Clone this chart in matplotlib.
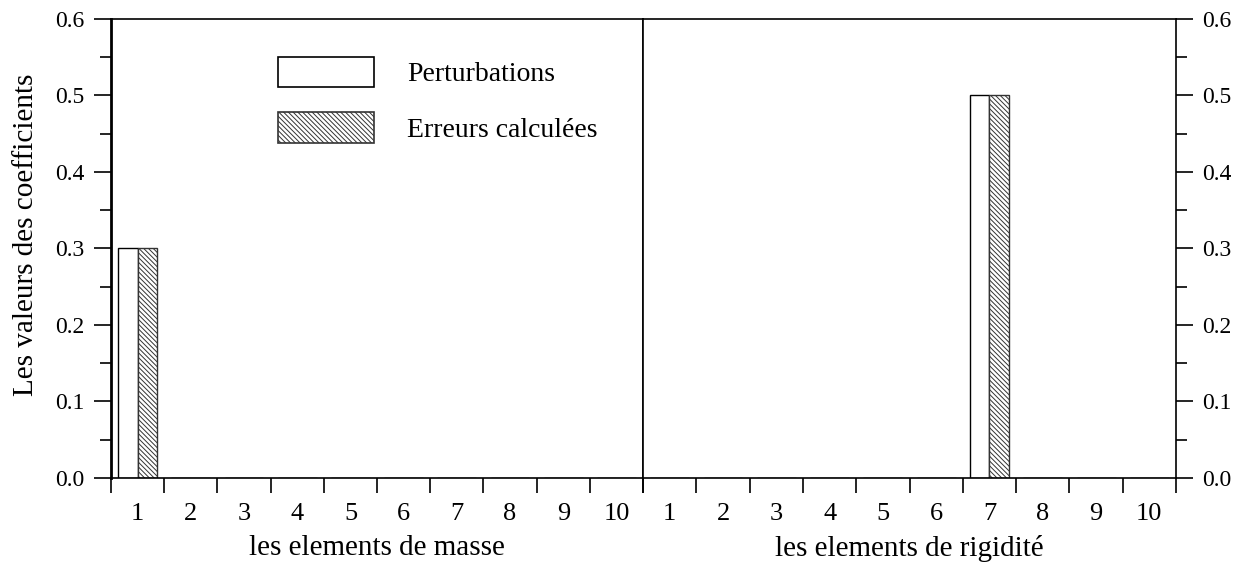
import numpy as np
import matplotlib
matplotlib.use('Agg')
import matplotlib.pyplot as plt
from matplotlib.patches import Patch

plt.rcParams['font.family'] = 'Liberation Serif'
plt.rcParams['font.size'] = 17
plt.rcParams['hatch.linewidth'] = 0.7

# coefficients perturbés / erreurs identifiées, 10 éléments par groupe
elements = np.arange(1, 11)
elem_labels = [str(i) for i in elements]
pert_masse = [0.3, 0, 0, 0, 0, 0, 0, 0, 0, 0]
err_masse = [0.3, 0, 0, 0, 0, 0, 0, 0, 0, 0]
pert_rigid = [0, 0, 0, 0, 0, 0, 0.5, 0, 0, 0]
err_rigid = [0, 0, 0, 0, 0, 0, 0.5, 0, 0, 0]
y_ticks = [0.0, 0.1, 0.2, 0.3, 0.4, 0.5, 0.6]

fig = plt.figure(figsize=(12.56, 5.62), dpi=100)
ax1 = fig.add_axes([0.0884, 0.1495, 0.4236, 0.8167])
ax2 = fig.add_axes([0.5120, 0.1495, 0.4243, 0.8167])

w = 0.365
hatch = '\\\\\\\\\\\\\\'
for ax, p, e in [(ax1, pert_masse, err_masse), (ax2, pert_rigid, err_rigid)]:
    ax.bar(elements - w / 2, p, width=w, color='white', edgecolor='black', linewidth=1.0)
    ax.bar(elements + w / 2, e, width=w, color='white', edgecolor='#333333', hatch=hatch, linewidth=1.0)
    ax.set_xlim(0.5, 10.5)
    ax.set_ylim(0, 0.6)
    # traits aux limites des éléments, numéros au centre
    ax.set_xticks(np.arange(0.5, 11, 1))
    ax.set_xticklabels([])
    ax.set_xticks(elements, minor=True)
    ax.set_xticklabels(elem_labels, minor=True)
    ax.tick_params(axis='x', which='major', direction='out', length=11, width=1.2)
    ax.tick_params(axis='x', which='minor', length=0, pad=18, labelsize=19)
    for s in ax.spines.values():
        s.set_linewidth(1.2)
    ax.set_yticks(y_ticks)
    ax.set_yticks(np.arange(0.05, 0.6, 0.1), minor=True)
    ax.tick_params(axis='y', which='major', direction='out', length=12, width=1.2, labelsize=17, pad=7)
    ax.tick_params(axis='y', which='minor', direction='out', length=8, width=1.2)
    ax.set_yticklabels(['%.1f' % v for v in y_ticks])

ax1.spines['left'].set_linewidth(2.0)
ax2.yaxis.tick_right()
ax2.tick_params(axis='y', which='both', left=False, right=True)

ax1.set_ylabel('Les valeurs des coefficients', fontsize=21)
ax1.yaxis.set_label_coords(-0.136, 0.53)
ax1.set_xlabel('les elements de masse', fontsize=21)
ax2.set_xlabel('les elements de rigidité', fontsize=21)
ax1.xaxis.set_label_coords(0.5, -0.125)
ax2.xaxis.set_label_coords(0.5, -0.125)

handles = [Patch(facecolor='white', edgecolor='black', linewidth=1.2),
           Patch(facecolor='white', edgecolor='#333333', hatch=hatch, linewidth=1.2)]
fig.legend(handles, ['Perturbations', 'Erreurs calculées'], loc='upper left',
           bbox_to_anchor=(278 / 1256, 1 - 57 / 562), frameon=False, fontsize=20,
           handlelength=3.45, handleheight=1.3, handletextpad=1.2, labelspacing=0.9,
           borderpad=0, borderaxespad=0)

plt.savefig('out.png', dpi=100)
